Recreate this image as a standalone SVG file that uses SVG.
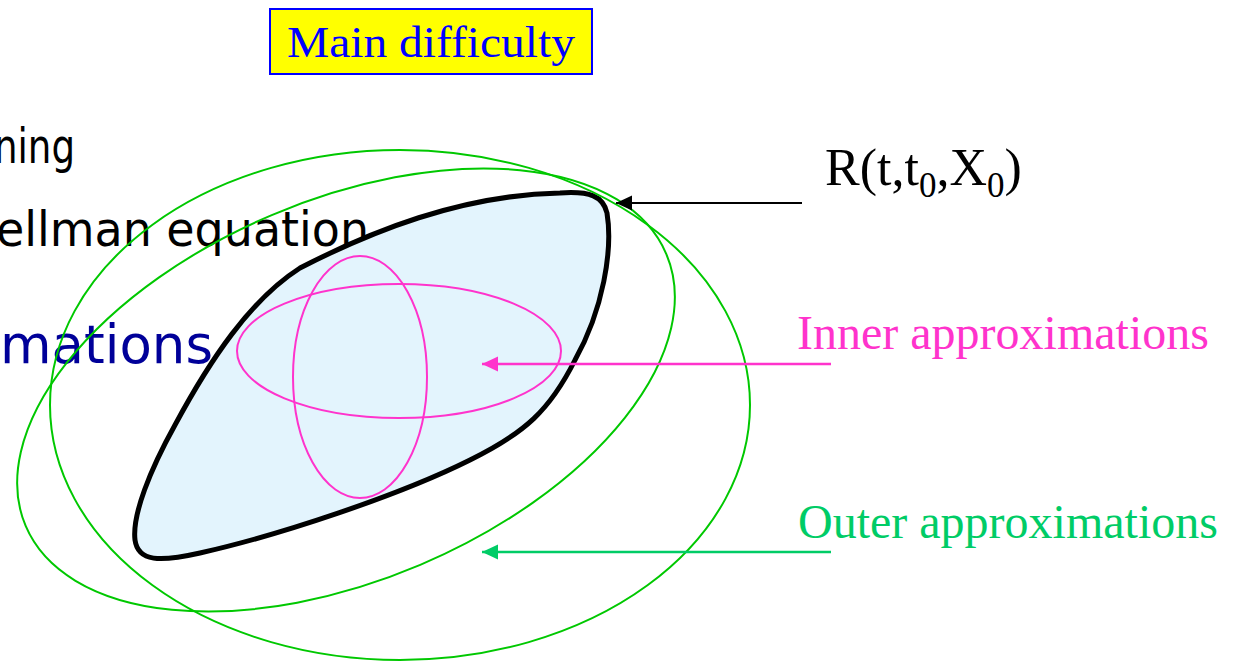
<svg xmlns="http://www.w3.org/2000/svg" width="1233" height="661" viewBox="0 0 1233 661">
<style>
.serif{font-family:"Liberation Serif","Times New Roman",serif;}
.sans{font-family:"DejaVu Sans",Verdana,sans-serif;}
.green{fill:none;stroke:#00c800;stroke-width:2;}
.pink{fill:none;stroke:#ff33cc;stroke-width:2;}
</style>
<defs>
<marker id="ahBlack" markerUnits="userSpaceOnUse" markerWidth="18" markerHeight="16" refX="16" refY="7.5" orient="auto"><path d="M0,0 L16,7.5 L0,15 Z" fill="#000"/></marker>
<marker id="ahPink" markerUnits="userSpaceOnUse" markerWidth="18" markerHeight="16" refX="16" refY="7.5" orient="auto"><path d="M0,0 L16,7.5 L0,15 Z" fill="#ff33cc"/></marker>
<marker id="ahGreen" markerUnits="userSpaceOnUse" markerWidth="18" markerHeight="16" refX="16" refY="7.5" orient="auto"><path d="M0,0 L16,7.5 L0,15 Z" fill="#00cc66"/></marker>
</defs>
<rect width="1233" height="661" fill="#fff"/>
<g id="bg-text" class="sans">
<text x="-6" y="163" font-size="48" fill="#000" textLength="81" lengthAdjust="spacingAndGlyphs">ning</text>
<text x="-4" y="246" font-size="48" fill="#000" textLength="373" lengthAdjust="spacingAndGlyphs">ellman equation</text>
<text x="0" y="363" font-size="54" fill="#000099" textLength="213" lengthAdjust="spacingAndGlyphs">mations</text>
</g>
<g id="title">
<rect x="270" y="9" width="322" height="65" fill="#ffff00" stroke="#0000ff" stroke-width="2"/>
<text class="serif" x="287" y="57" font-size="45" fill="#0000ff" textLength="288" lengthAdjust="spacingAndGlyphs">Main difficulty</text>
</g>
<g id="reach-set">
<path d="M 560 193 C 590 191, 603 196, 607 213 C 613 250, 603 310, 575 360 C 550 410, 525 433, 470 460 C 400 495, 280 535, 200 553 C 160 562, 138 562, 135 540 C 132 515, 150 470, 175 425 C 210 360, 250 300, 300 268 C 370 232, 460 195, 560 193 Z" fill="#e3f4fd" stroke="#000" stroke-width="5"/>
</g>
<g id="outer-approx">
<ellipse class="green" cx="400" cy="405" rx="350" ry="255"/>
<ellipse class="green" cx="346" cy="390" rx="348" ry="190" transform="rotate(-23 346 390)"/>
</g>
<g id="inner-approx">
<ellipse class="pink" cx="399" cy="351" rx="162" ry="67"/>
<ellipse class="pink" cx="360" cy="377" rx="67" ry="121"/>
</g>
<g id="connectors">
<line x1="802" y1="203" x2="616" y2="203" stroke="#000" stroke-width="2" marker-end="url(#ahBlack)"/>
<line x1="831" y1="364" x2="482" y2="364" stroke="#ff33cc" stroke-width="2.5" marker-end="url(#ahPink)"/>
<line x1="831" y1="552" x2="482" y2="552" stroke="#00cc66" stroke-width="2.5" marker-end="url(#ahGreen)"/>
</g>
<g id="label-R">
<text class="serif" x="825" y="185" font-size="52" fill="#000">R(t,t<tspan dy="12" font-size="35">0</tspan><tspan dy="-12">,X</tspan><tspan dy="12" font-size="35">0</tspan><tspan dy="-12">)</tspan></text>
</g>
<g id="label-inner">
<text class="serif" x="797" y="349" font-size="48" fill="#ff33cc">Inner approximations</text>
</g>
<g id="label-outer">
<text class="serif" x="798" y="538" font-size="48" fill="#00cc66">Outer approximations</text>
</g>
</svg>
